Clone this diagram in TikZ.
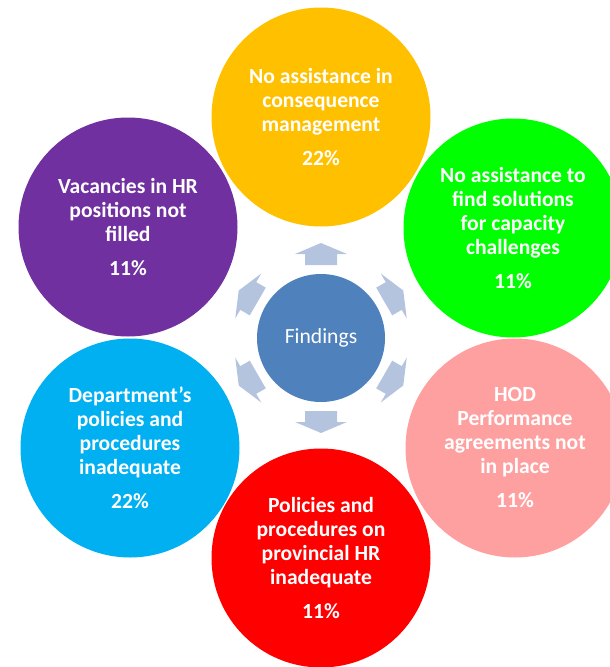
\documentclass[tikz,border=0pt]{standalone}
\usepackage{fontspec}
\setmainfont{Carlito}
\definecolor{cyel}{RGB}{255,192,0}
\definecolor{cgrn}{RGB}{0,255,0}
\definecolor{cpnk}{RGB}{255,160,160}
\definecolor{cred}{RGB}{255,0,0}
\definecolor{cblu}{RGB}{0,176,240}
\definecolor{cpur}{RGB}{112,48,160}
\definecolor{cctr}{RGB}{79,129,189}
\definecolor{carr}{RGB}{180,196,222}
\begin{document}
\begin{tikzpicture}[x=1pt,y=-1pt,
  bubble/.style={circle,minimum size=219pt,inner sep=0pt,align=center,text=white,
    font=\fontsize{21.6}{24}\selectfont\bfseries},
  hub/.style={circle,minimum size=128pt,inner sep=0pt,fill=cctr,text=white,
    font=\fontsize{21.6}{24}\selectfont},
  blockarrow/.style={fill=carr}]
\useasboundingbox (0,0) rectangle (610,667);
\clip (0,0) rectangle (610,667);
\node[hub] (find) at (321,338) {Findings};
\node[bubble,fill=cyel] (top) at (321,117) {No assistance in\\consequence\\management\\[10pt]22\%};
\node[bubble,fill=cgrn] (rt) at (513,228) {No assistance to\\find solutions\\for capacity\\challenges\\[10pt]11\%};
\node[bubble,fill=cpnk] (rb) at (515,448) {HOD\\Performance\\agreements not\\in place\\[10pt]11\%};
\node[bubble,fill=cred] (bot) at (321,558) {Policies and\\procedures on\\provincial HR\\inadequate\\[10pt]11\%};
\node[bubble,fill=cblu] (lb) at (130,448) {Department’s\\policies and\\procedures\\inadequate\\[10pt]22\%};
\node[bubble,fill=cpur] (lt) at (128,227) {Vacancies in HR\\positions not\\filled\\[10pt]11\%};
\foreach \a in {90,30,-30,-90,-150,150}{
  \begin{scope}[shift={(find.center)},rotate=\a]
    \fill[blockarrow] (73,-16) -- (84,-16) -- (84,-26) -- (95,0) -- (84,26) -- (84,16) -- (73,16) -- cycle;
  \end{scope}
}
\end{tikzpicture}
\end{document}
